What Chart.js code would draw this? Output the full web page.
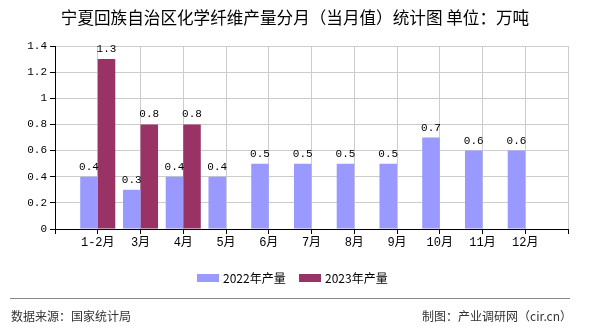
<!DOCTYPE html>
<html lang="zh">
<head>
    <meta charset="UTF-8">
    <title>宁夏回族自治区化学纤维产量分月</title>
    <script src="https://cdn.jsdelivr.net/npm/chart.js@4.4.1/dist/chart.umd.min.js"></script>
    <style>
        body { margin: 0; background: #fff; }
    </style>
</head>
<body>
<canvas id="chart" width="590" height="330"></canvas>
<script>
    // data
    const months = ['1-2月', '3月', '4月', '5月', '6月', '7月', '8月', '9月', '10月', '11月', '12月'];
    const output2022 = [0.4, 0.3, 0.4, 0.4, 0.5, 0.5, 0.5, 0.5, 0.7, 0.6, 0.6];
    const output2023 = [1.3, 0.8, 0.8, null, null, null, null, null, null, null, null];
    const seriesNames = ['2022年产量', '2023年产量'];
    const seriesColors = ['#9999ff', '#993366'];

    const titleText = '宁夏回族自治区化学纤维产量分月（当月值）统计图 单位：万吨';
    const sourceText = '数据来源：国家统计局';
    const makerText = '制图：产业调研网（cir.cn）';

    // empty slot at both ends of the axis, like the original
    const labels = [''].concat(months, ['']);
    const pad = arr => [null].concat(arr, [null]);

    const monoFont = '"Liberation Mono", "Noto Sans CJK SC", monospace';
    const cjkFont = '"Noto Sans CJK SC", sans-serif';

    const extras = {
        id: 'extras',
        afterDatasetsDraw(chart) {
            const c = chart.ctx;
            c.save();
            c.font = '11px ' + monoFont;
            c.fillStyle = '#000';
            c.textAlign = 'center';
            c.textBaseline = 'alphabetic';
            chart.data.datasets.forEach((ds, i) => {
                chart.getDatasetMeta(i).data.forEach((bar, j) => {
                    const v = ds.data[j];
                    if (v === null) return;
                    c.fillText(String(v), bar.x, bar.y - 7);
                });
            });
            c.restore();
        },
        afterDraw(chart) {
            const c = chart.ctx;
            c.save();
            // title
            c.fillStyle = '#000';
            c.font = '16.6px ' + cjkFont;
            c.textAlign = 'center';
            c.textBaseline = 'middle';
            c.fillText(titleText, 295, 18);

            // legend
            c.font = '12px ' + cjkFont;
            c.textAlign = 'left';
            const boxX = [197, 299];
            chart.data.datasets.forEach((ds, i) => {
                c.fillStyle = ds.backgroundColor;
                c.fillRect(boxX[i], 274, 22, 8);
                c.fillStyle = '#000';
                c.fillText(ds.label, boxX[i] + 26, 278);
            });

            // footer
            c.strokeStyle = '#888';
            c.lineWidth = 1;
            c.beginPath();
            c.moveTo(10, 298.5);
            c.lineTo(570, 298.5);
            c.stroke();
            c.fillStyle = '#333';
            c.fillText(sourceText, 11, 316);
            c.textAlign = 'right';
            c.fillText(makerText, 572, 316);
            c.restore();
        }
    };

    const ctx = document.getElementById('chart').getContext('2d');
    const myChart = new Chart(ctx, {
        type: 'bar',
        data: {
            labels: labels,
            datasets: [
                {
                    label: seriesNames[0],
                    data: pad(output2022),
                    backgroundColor: seriesColors[0]
                },
                {
                    label: seriesNames[1],
                    data: pad(output2023),
                    backgroundColor: seriesColors[1]
                }
            ]
        },
        options: {
            responsive: false,
            animation: false,
            devicePixelRatio: 1,
            categoryPercentage: 0.82,
            barPercentage: 1,
            layout: {
                padding: { left: 0, right: 22, top: 46, bottom: 81 }
            },
            plugins: {
                legend: { display: false },
                title: { display: false },
                tooltip: { enabled: false }
            },
            scales: {
                x: {
                    offset: false,
                    grid: {
                        offset: false,
                        color: '#cccccc',
                        tickColor: '#000',
                        tickLength: 5
                    },
                    border: { color: '#000' },
                    ticks: {
                        autoSkip: false,
                        maxRotation: 0,
                        color: '#000',
                        padding: 2,
                        font: { family: monoFont, size: 12 }
                    },
                    afterFit(scale) { scale.height = 20; }
                },
                y: {
                    min: 0,
                    max: 1.4,
                    grid: {
                        color: '#cccccc',
                        tickColor: '#000',
                        tickLength: 5
                    },
                    border: { color: '#000' },
                    ticks: {
                        stepSize: 0.2,
                        color: '#000',
                        padding: 3,
                        font: { family: monoFont, size: 11 },
                        callback: v => String(+v.toFixed(1))
                    },
                    afterFit(scale) { scale.width = 55; }
                }
            }
        },
        plugins: [extras]
    });
</script>
</body>
</html>
